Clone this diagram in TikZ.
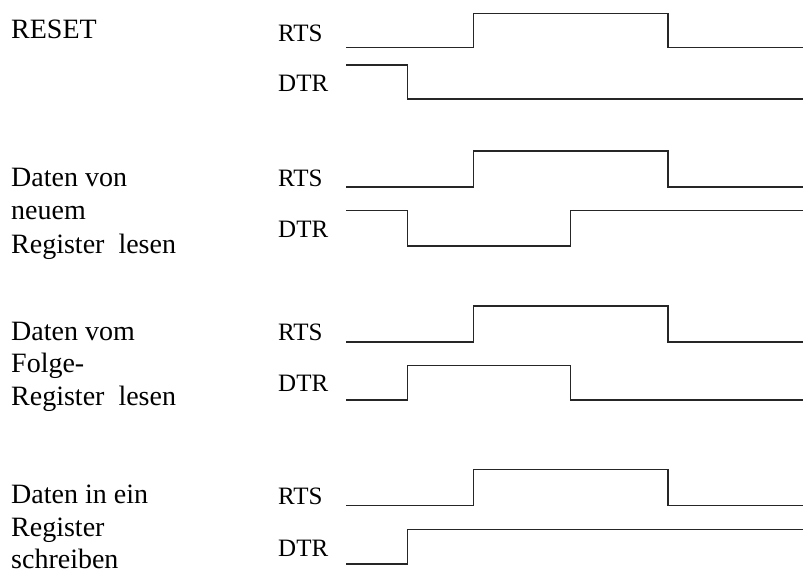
\documentclass[tikz,border=0pt]{standalone}
\usepackage{fontspec}
\setmainfont{Liberation Serif}
\begin{document}
\begin{tikzpicture}[x=1pt,y=-1pt,
  lbl/.style={anchor=base west,inner sep=0pt,font=\fontsize{28}{33}\selectfont},
  sig/.style={anchor=base west,inner sep=0pt,font=\fontsize{25}{30}\selectfont},
  wave/.style={line width=1.3pt,line join=miter,black!85}]
\useasboundingbox (0,0) rectangle (803,572);
% left labels
\node[lbl] (l1) at (11,39) {RESET};
\node[lbl] (l2a) at (11,187) {Daten von};
\node[lbl] (l2b) at (11,220) {neuem};
\node[lbl] (l2c) at (11,253) {Register\ \ lesen};
\node[lbl] (l3a) at (11,340) {Daten vom};
\node[lbl] (l3b) at (11,372) {Folge-};
\node[lbl] (l3c) at (11,405) {Register\ \ lesen};
\node[lbl] (l4a) at (11,503) {Daten in ein};
\node[lbl] (l4b) at (11,536) {Register};
\node[lbl] (l4c) at (11,568) {schreiben};
% signal names
\node[sig] (r1) at (278,42) {RTS};
\node[sig] (d1) at (278,92) {DTR};
\node[sig] (r2) at (278,187) {RTS};
\node[sig] (d2) at (278,237) {DTR};
\node[sig] (r3) at (278,340) {RTS};
\node[sig] (d3) at (278,391) {DTR};
\node[sig] (r4) at (278,504) {RTS};
\node[sig] (d4) at (278,556) {DTR};
% waveforms
\draw[wave] (346,47.7) -| (473.7,13.3) -| (668,47.7) -- (803,47.7);
\draw[wave] (346,65) -| (407.3,99) -- (803,99);
\draw[wave] (346,187) -| (473.7,151) -| (668,187) -- (803,187);
\draw[wave] (346,210.7) -| (407.3,246) -| (570.7,210.7) -- (803,210.7);
\draw[wave] (346,342) -| (473.7,306) -| (668,342) -- (803,342);
\draw[wave] (346,400) -| (407.3,365.7) -| (570.7,400) -- (803,400);
\draw[wave] (346,505.3) -| (473.7,469.3) -| (668,505.3) -- (803,505.3);
\draw[wave] (346,564) -| (407.3,529.3) -- (803,529.3);
\end{tikzpicture}
\end{document}
